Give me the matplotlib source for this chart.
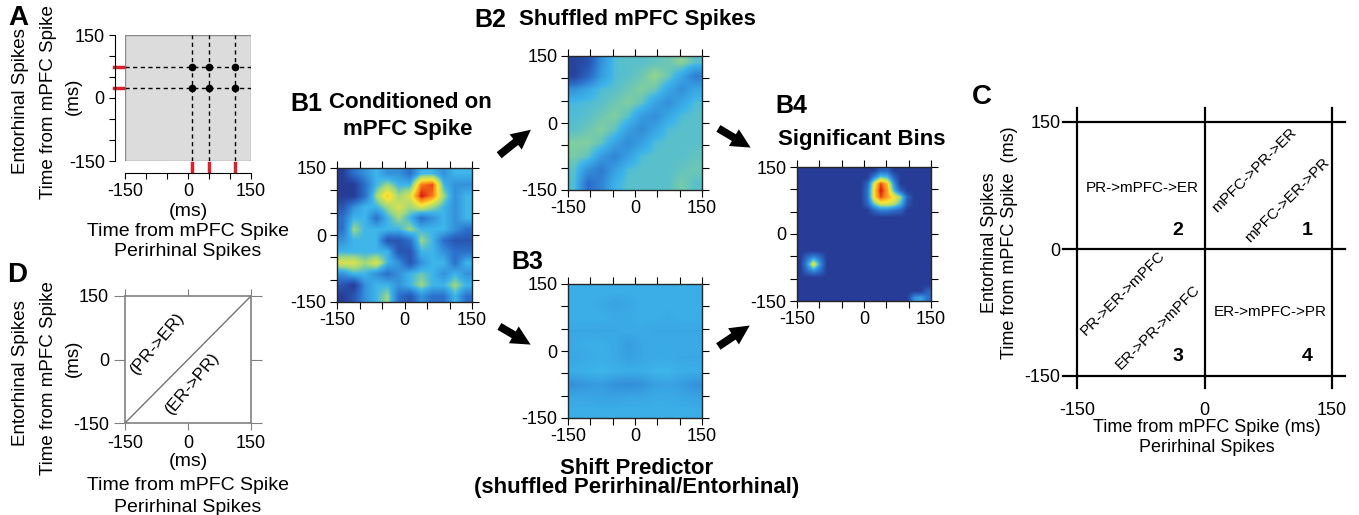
import matplotlib
matplotlib.use('Agg')
import matplotlib.pyplot as plt
import numpy as np
from matplotlib.colors import LinearSegmentedColormap
from matplotlib.patches import Rectangle, FancyArrowPatch, ArrowStyle

plt.rcParams['font.family'] = ['Liberation Sans', 'DejaVu Sans']
plt.rcParams['axes.unicode_minus'] = False

W, H = 1359, 515

# Panel A: example spike times (ms from the mPFC spike)
a_pr_spikes = [10, 50, 113]
a_er_spikes = [75, 25]

ticks = [-150, -100, -50, 0, 50, 100, 150]
tick_labels = ['-150', '', '', '0', '', '', '150']
main_ticks = [-150, 0, 150]

# B1: conditioned on mPFC spike (rows top -> bottom, 12 x 12 bins)
b1 = [
    [1, 3, 4, 5, 4, 4, 3, 5, 5, 4, 5, 5],
    [1, 1, 3, 5, 6, 5, 5, 9, 9.5, 5, 4, 4],
    [1, 1, 3, 6, 8, 6, 7, 10, 9, 6, 4, 5],
    [2, 4, 5, 5, 6, 7, 6, 7, 6, 5, 4, 5],
    [3, 5, 5, 3, 5, 6, 5, 3, 4, 5, 4, 5],
    [3, 6, 5, 5, 5, 5, 6, 5, 5, 5, 4, 3],
    [4, 5, 5, 5, 2, 2, 3, 6, 5, 3, 2, 2],
    [5, 5, 5, 5, 5, 2, 2, 5, 5, 4, 3, 3],
    [7, 7, 6, 7, 5, 4, 2, 4, 5, 5, 3, 5],
    [4, 5, 5, 4, 3, 4, 5, 5.5, 5, 4, 5, 4],
    [2, 1, 4, 5, 5, 4, 5, 6, 5, 5, 6, 5],
    [1, 2, 4, 5, 6, 3, 2, 4, 3, 3, 5, 3],
]

# B2: shuffled mPFC spikes (10 x 10)
b2 = [
    [1.3, 1.8, 4.0, 5.2, 5.3, 5.3, 5.4, 5.5, 5.8, 5.3],
    [1.3, 2.6, 4.3, 5.2, 5.3, 5.5, 5.9, 5.5, 4.6, 3.4],
    [4.0, 4.6, 5.2, 5.3, 5.5, 5.7, 5.5, 4.6, 3.9, 4.6],
    [5.1, 5.2, 5.3, 5.5, 5.7, 5.4, 4.5, 3.9, 4.6, 5.2],
    [5.2, 5.3, 5.5, 5.7, 5.3, 4.3, 3.9, 4.6, 5.2, 5.3],
    [5.3, 5.5, 5.7, 5.4, 4.4, 3.8, 4.5, 5.2, 5.3, 5.3],
    [5.7, 5.7, 5.4, 4.5, 3.8, 4.4, 5.2, 5.3, 5.3, 5.3],
    [5.6, 5.4, 4.3, 3.6, 4.4, 5.2, 5.3, 5.3, 5.3, 5.4],
    [5.3, 4.0, 3.3, 4.4, 5.2, 5.3, 5.3, 5.3, 5.4, 5.5],
    [5.2, 2.9, 3.6, 4.9, 5.3, 5.3, 5.3, 5.3, 5.6, 5.3],
]

# B3: shift predictor (10 x 10)
b3 = [
    [4.8, 4.8, 4.8, 4.8, 4.8, 4.8, 4.8, 4.8, 4.8, 4.8],
    [4.8, 4.8, 4.7, 4.5, 4.6, 4.8, 4.8, 4.8, 4.8, 4.8],
    [4.8, 4.8, 4.8, 4.7, 4.7, 4.8, 4.8, 4.7, 4.8, 4.8],
    [4.6, 4.6, 4.6, 4.6, 4.7, 4.7, 4.6, 4.6, 4.6, 4.6],
    [4.7, 4.8, 4.8, 4.7, 4.3, 4.6, 4.7, 4.7, 4.7, 4.7],
    [4.6, 4.7, 4.8, 4.7, 4.4, 4.6, 4.7, 4.7, 4.6, 4.6],
    [4.8, 4.9, 5.0, 4.9, 4.8, 4.8, 5.0, 5.0, 4.8, 4.8],
    [4.0, 4.2, 4.3, 4.0, 3.9, 4.0, 4.4, 4.5, 4.3, 4.0],
    [4.6, 4.6, 4.5, 4.5, 4.6, 4.6, 4.7, 4.7, 4.6, 4.5],
    [4.8, 4.8, 4.8, 4.8, 4.8, 4.8, 4.8, 4.8, 4.8, 4.8],
]

# B4: significant bins (20 x 20, background plus listed bins)
b4_size = 20
b4_background = 1.0
b4_rows = [0, 0,
           1, 1, 1, 1,
           2, 2, 2, 2, 2,
           3, 3, 3, 3, 3, 3,
           4, 4, 4, 4, 4, 4, 4,
           5, 5, 5, 5, 5, 5, 5,
           6, 6, 6, 6, 6,
           13, 15, 14, 14, 14, 13, 13, 15, 15,
           19, 19, 19, 18]
b4_cols = [12, 13,
           11, 12, 13, 14,
           10, 11, 12, 13, 14,
           10, 11, 12, 13, 14, 15,
           10, 11, 12, 13, 14, 15, 16,
           10, 11, 12, 13, 14, 15, 16,
           11, 12, 13, 14, 15,
           2, 2, 1, 2, 3, 1, 3, 1, 3,
           17, 18, 19, 19]
b4_vals = [2.5, 2.5,
           3.5, 5.5, 5.0, 2.5,
           2.5, 7.0, 9.5, 8.0, 4.0,
           3.0, 7.5, 10, 8.5, 5.0, 2.5,
           3.0, 7.5, 9.5, 8.5, 7.5, 6.0, 2.5,
           2.5, 5.5, 7.0, 7.0, 6.5, 5.0, 2.0,
           2.5, 3.5, 3.5, 3.0, 2.5,
           4.0, 4.0, 4.0, 7.5, 4.0, 2.8, 2.8, 2.8, 2.8,
           4.0, 4.5, 3.0, 2.5]

cmap = LinearSegmentedColormap.from_list('scan', [
    (0.0, (0.12, 0.18, 0.52)), (0.1, (0.15, 0.24, 0.59)),
    (0.3, (0.17, 0.44, 0.80)), (0.5, (0.24, 0.71, 0.92)),
    (0.6, (0.62, 0.85, 0.50)), (0.75, (0.98, 0.90, 0.20)),
    (0.9, (0.98, 0.50, 0.10)), (1.0, (0.85, 0.08, 0.08))])

fig = plt.figure(figsize=(W / 100, H / 100), dpi=100)


def add_ax(x0, y0, x1, y1):
    return fig.add_axes([x0 / W, 1 - y1 / H, (x1 - x0) / W, (y1 - y0) / H])


def ftext(x, y, s, **kw):
    kw.setdefault('ha', 'center')
    kw.setdefault('va', 'center')
    fig.text(x / W, 1 - y / H, s, **kw)


def arrow(x0, y0, x1, y1):
    st = ArrowStyle.Simple(head_length=0.7, head_width=0.7, tail_width=0.28)
    p = FancyArrowPatch((x0 / W, 1 - y0 / H), (x1 / W, 1 - y1 / H),
                        transform=fig.transFigure, arrowstyle=st,
                        mutation_scale=20, color='k', lw=0)
    fig.add_artist(p)


# ---- Panel A
ax = add_ax(125, 35, 251, 161)
ax.set_xlim(-150, 150)
ax.set_ylim(-150, 150)
ax.set_facecolor('#dcdcdc')
ax.add_patch(Rectangle((-150, -150), 300, 300, fill=False, ec='0.55', lw=1))
for s in ['top', 'right']:
    ax.spines[s].set_visible(False)
ax.spines['left'].set_position(('outward', 7))
ax.spines['bottom'].set_position(('outward', 8.5))
ax.set_xticks(ticks, tick_labels)
ax.set_yticks(ticks, tick_labels)
ax.tick_params(direction='out', length=4, labelsize=13)
for x in a_pr_spikes:
    ax.plot([x, x], [-150, 150], color='k', ls=(0, (3, 2.5)), lw=1)
    ax.plot([x, x], [-155, -174], color='#d8232e', lw=2.5, clip_on=False)
for y in a_er_spikes:
    ax.plot([-150, 150], [y, y], color='k', ls=(0, (3, 2.5)), lw=1)
    ax.plot([-155, -177], [y, y], color='#d8232e', lw=2.5, clip_on=False)
for x in a_pr_spikes:
    for y in a_er_spikes:
        ax.plot(x, y, 'o', color='k', ms=4.5)

ftext(18, 18, 'A', fontsize=20, fontweight='bold')
ftext(21, 101, 'Entorhinal Spikes', rotation=90, fontsize=13.5)
ftext(49, 102, 'Time from mPFC Spike', rotation=90, fontsize=13.5)
ftext(73, 96, '(ms)', rotation=90, fontsize=13.5)
ftext(188, 212, '(ms)', fontsize=14)
ftext(188, 231, 'Time from mPFC Spike', fontsize=14)
ftext(188, 251, 'Perirhinal Spikes', fontsize=14)

# ---- Panel D
ax = add_ax(125, 296, 251, 423)
ax.set_xlim(-150, 150)
ax.set_ylim(-150, 150)
for s in ax.spines.values():
    s.set_color('0.5')
    s.set_linewidth(1.2)
ax.set_xticks(main_ticks)
ax.set_yticks(main_ticks)
ax.tick_params(direction='out', length=5, color='0.5', labelsize=13,
               top=True, right=True)
ax.tick_params(axis='y', length=8)
ax.plot([-150, 150], [-150, 150], color='0.45', lw=1)
ax.text(-72, 38, '(PR->ER)', rotation=50, fontsize=12.5, ha='center', va='center')
ax.text(10, -56, '(ER->PR)', rotation=50, fontsize=12.5, ha='center', va='center')

ftext(17, 275, 'D', fontsize=20, fontweight='bold')
ftext(21, 373, 'Entorhinal Spikes', rotation=90, fontsize=13.5)
ftext(49, 378, 'Time from mPFC Spike', rotation=90, fontsize=13.5)
ftext(73, 358, '(ms)', rotation=90, fontsize=13.5)
ftext(188, 461, '(ms)', fontsize=14)
ftext(188, 486, 'Time from mPFC Spike', fontsize=14)
ftext(188, 507, 'Perirhinal Spikes', fontsize=14)


# ---- Panels B
def heat(box, data):
    ax = add_ax(*box)
    ax.imshow(np.array(data, dtype=float), cmap=cmap, vmin=0, vmax=10,
              extent=(-150, 150, -150, 150), interpolation='bilinear',
              aspect='auto')
    ax.set_xlim(-150, 150)
    ax.set_ylim(-150, 150)
    ax.set_xticks(ticks, tick_labels)
    ax.set_yticks(ticks, tick_labels)
    ax.tick_params(direction='out', length=5, labelsize=13, top=True,
                   right=True, pad=2.5)
    for s in ax.spines.values():
        s.set_linewidth(1)
        s.set_color('0.15')
    return ax


heat((337, 168, 472, 302), b1)
heat((568, 56, 702, 190), b2)
heat((568, 284, 702, 418), b3)

b4 = np.full((b4_size, b4_size), b4_background)
for r, c, v in zip(b4_rows, b4_cols, b4_vals):
    b4[r, c] = v
heat((797, 167, 931, 301), b4)

ftext(306, 104, 'B1', fontsize=18, fontweight='bold')
ftext(410, 102, 'Conditioned on', fontsize=16, fontweight='bold')
ftext(408, 130, 'mPFC Spike', fontsize=16, fontweight='bold')
ftext(490, 20, 'B2', fontsize=18, fontweight='bold')
ftext(637, 20, 'Shuffled mPFC Spikes', fontsize=16, fontweight='bold')
ftext(527, 262, 'B3', fontsize=18, fontweight='bold')
ftext(637, 468, 'Shift Predictor', fontsize=16, fontweight='bold')
ftext(637, 488, '(shuffled Perirhinal/Entorhinal)', fontsize=16, fontweight='bold')
ftext(791, 106, 'B4', fontsize=18, fontweight='bold')
ftext(862, 140, 'Significant Bins', fontsize=16, fontweight='bold')

arrow(497, 157, 533, 128)
arrow(497, 325, 533, 346)
arrow(716, 127, 753, 149)
arrow(716, 348, 752, 324)

# ---- Panel C
ax = add_ax(1077, 122, 1332, 376)
ax.set_xlim(-150, 150)
ax.set_ylim(-150, 150)
ax.set_frame_on(False)
ax.set_xticks(main_ticks)
ax.set_yticks(main_ticks)
ax.tick_params(length=0, labelsize=13)
ax.tick_params(axis='x', pad=19)
ax.tick_params(axis='y', pad=12)
for v in main_ticks:
    ax.plot([v, v], [-164, 166], color='k', lw=1.6, clip_on=False)
    ax.plot([-166, 165], [v, v], color='k', lw=1.6, clip_on=False)
ax.text(-73, 72, 'PR->mPFC->ER', fontsize=11, ha='center', va='center')
ax.text(77, -75, 'ER->mPFC->PR', fontsize=11, ha='center', va='center')
ax.text(59, 93, 'mPFC->PR->ER', fontsize=11, rotation=45, ha='center', va='center')
ax.text(97, 58, 'mPFC->ER->PR', fontsize=11, rotation=45, ha='center', va='center')
ax.text(-96, -52, 'PR->ER->mPFC', fontsize=11, rotation=45, ha='center', va='center')
ax.text(-55, -92, 'ER->PR->mPFC', fontsize=11, rotation=45, ha='center', va='center')
for lab, x, y in [('2', -31, 22), ('1', 121, 22), ('3', -31, -127), ('4', 121, -127)]:
    ax.text(x, y, lab, fontsize=14, fontweight='bold', ha='center', va='center')

ftext(982, 97, 'C', fontsize=20, fontweight='bold')
ftext(990, 243, 'Entorhinal Spikes', rotation=90, fontsize=13)
ftext(1010, 243, 'Time from mPFC Spike  (ms)', rotation=90, fontsize=13)
ftext(1207, 428, 'Time from mPFC Spike (ms)', fontsize=13)
ftext(1207, 448, 'Perirhinal Spikes', fontsize=13)

fig.savefig('out.png', dpi=100)
